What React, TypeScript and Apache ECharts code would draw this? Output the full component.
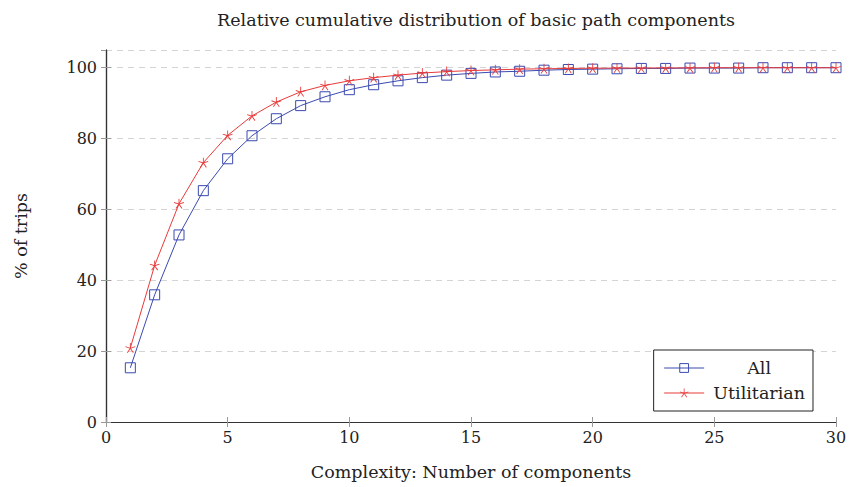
import React, { useEffect, useRef } from "react";
import * as echarts from "echarts";

const complexity = [1, 2, 3, 4, 5, 6, 7, 8, 9, 10, 11, 12, 13, 14, 15, 16, 17, 18, 19, 20, 21, 22, 23, 24, 25, 26, 27, 28, 29, 30];
const allTrips = [15.3, 35.9, 52.8, 65.3, 74.3, 80.8, 85.6, 89.3, 91.8, 93.8, 95.2, 96.3, 97.2, 97.9, 98.4, 98.8, 99.0, 99.3, 99.5, 99.6, 99.7, 99.8, 99.8, 99.9, 99.9, 99.9, 100, 100, 100, 100];
const utilitarianTrips = [20.9, 44.2, 61.6, 73.2, 80.9, 86.4, 90.3, 93.2, 95.0, 96.3, 97.2, 97.9, 98.5, 98.9, 99.2, 99.4, 99.6, 99.7, 99.8, 99.85, 99.9, 99.9, 99.95, 99.95, 100, 100, 100, 100, 100, 100];
const seriesNames = ["All", "Utilitarian"];
const titleText = "Relative cumulative distribution of basic path components";
const xAxisName = "Complexity: Number of components";
const yAxisName = "% of trips";

function starPath(): string {
  // five-armed asterisk made of thin bars (pgfplots "star" mark)
  const r = 10;
  const w = 0.85;
  let d = "";
  for (let i = 0; i < 5; i++) {
    const a = (Math.PI / 2) + (i * 2 * Math.PI) / 5;
    const ux = Math.cos(a), uy = -Math.sin(a);
    const px = -uy * w, py = ux * w;
    const pts = [
      [px, py],
      [ux * r + px, uy * r + py],
      [ux * r - px, uy * r - py],
      [-px, -py],
    ];
    d += "M" + pts.map((p) => (p[0] + 12).toFixed(2) + " " + (p[1] + 12).toFixed(2)).join(" L") + " Z ";
  }
  return "path://" + d;
}

const FONT = "DejaVu Serif";
const BLUE = "#3a4ab0";
const RED = "#e83a3a";
const TEXT = "#222";

export default function App() {
  const ref = useRef<HTMLDivElement>(null);
  useEffect(() => {
    if (!ref.current) return;
    const chart = echarts.init(ref.current, undefined, { renderer: "svg" });
    const tickStyle = { show: true, inside: true, length: 5, lineStyle: { color: "#999", width: 1 } };
    const frameLine = { show: true, lineStyle: { color: "#333", width: 1.2 } };
    chart.setOption({
      animation: false,
      backgroundColor: "#fff",
      title: {
        text: titleText,
        left: 471,
        textAlign: "center",
        top: 6,
        textStyle: { fontFamily: FONT, fontWeight: "normal", fontSize: 17.5, color: TEXT },
      },
      grid: { left: 106, right: 23, top: 50, bottom: 65, containLabel: false },
      legend: {
        data: seriesNames,
        orient: "vertical",
        right: 46,
        bottom: 76,
        backgroundColor: "#fff",
        borderColor: "#222",
        borderWidth: 1,
        padding: [9, 8, 9, 10],
        itemGap: 7,
        itemWidth: 40,
        itemHeight: 11,
        itemStyle: { borderWidth: 1 },
        lineStyle: { width: 1 },
        formatter: (name: string) => "{c|" + name + "}",
        textStyle: {
          fontFamily: FONT,
          fontSize: 17.5,
          color: TEXT,
          rich: { c: { fontFamily: FONT, fontSize: 17.5, color: TEXT, width: 100, align: "center" } },
        },
      },
      xAxis: [
        {
          type: "value",
          min: 0,
          max: 30,
          interval: 5,
          name: xAxisName,
          nameLocation: "middle",
          nameGap: 41,
          nameTextStyle: { fontFamily: FONT, fontSize: 17.5, color: TEXT },
          axisLine: frameLine,
          axisTick: tickStyle,
          axisLabel: { fontFamily: FONT, fontSize: 16, color: TEXT, margin: 7 },
          splitLine: { show: false },
        },
        {
          type: "value",
          position: "top",
          min: 0,
          max: 30,
          interval: 5,
          axisLine: frameLine,
          axisTick: tickStyle,
          axisLabel: { show: false },
          splitLine: { show: false },
        },
      ],
      yAxis: [
        {
          type: "value",
          min: 0,
          max: 105,
          interval: 20,
          name: yAxisName,
          nameLocation: "middle",
          nameGap: 76,
          nameTextStyle: { fontFamily: FONT, fontSize: 17.5, color: TEXT },
          axisLine: frameLine,
          axisTick: tickStyle,
          axisLabel: {
            fontFamily: FONT,
            fontSize: 16,
            color: TEXT,
            margin: 9,
            showMaxLabel: false,
            formatter: (v: number) => (v % 20 === 0 ? String(v) : ""),
          },
          splitLine: { show: true, lineStyle: { color: "#d4d4d4", type: [6, 5], width: 1 } },
        },
        {
          type: "value",
          position: "right",
          min: 0,
          max: 105,
          interval: 20,
          axisLine: frameLine,
          axisTick: tickStyle,
          axisLabel: { show: false },
          splitLine: { show: false },
        },
      ],
      series: [
        {
          name: seriesNames[0],
          type: "line",
          xAxisIndex: 0,
          yAxisIndex: 0,
          data: complexity.map((c, i) => [c, allTrips[i]]),
          symbol: "rect",
          symbolSize: 10,
          showAllSymbol: true,
          lineStyle: { color: BLUE, width: 1 },
          itemStyle: { color: "rgba(255,255,255,0)", borderColor: BLUE, borderWidth: 1 },
          z: 2,
        },
        {
          name: seriesNames[1],
          type: "line",
          xAxisIndex: 0,
          yAxisIndex: 0,
          data: complexity.map((c, i) => [c, utilitarianTrips[i]]),
          symbol: starPath(),
          symbolSize: 10,
          showAllSymbol: true,
          lineStyle: { color: RED, width: 1 },
          itemStyle: { color: RED },
          z: 3,
        },
      ],
    });
    return () => chart.dispose();
  }, []);
  return <div ref={ref} style={{ width: 859, height: 487, position: "absolute", left: 0, top: 0 }} />;
}
